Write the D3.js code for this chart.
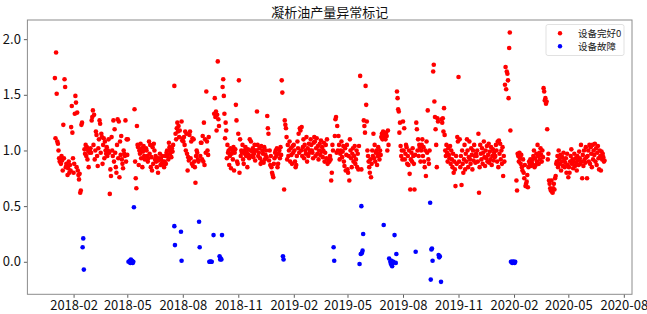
<!DOCTYPE html>
<html>
<head>
<meta charset="utf-8">
<script src="https://cdn.jsdelivr.net/npm/d3@7"></script>
<style>
  body { margin: 0; background: #fff; }
  text { font-family: "Noto Sans CJK SC", "DejaVu Sans", sans-serif; }
</style>
</head>
<body>
<svg id="chart" width="647" height="314"></svg>
<script>
// months covered by the "good" series, one value per day-slot (null = no reading)
const months = ["2018-01","2018-02","2018-03","2018-04","2018-05","2018-06","2018-07","2018-08","2018-09","2018-10","2018-11","2018-12",
  "2019-01","2019-02","2019-03","2019-04","2019-05","2019-06","2019-07","2019-08","2019-09","2019-10","2019-11","2019-12",
  "2020-01","2020-02","2020-03","2020-04","2020-05","2020-06"];

const goodValues = [
  [1.65,1.11,1.88,1.51,1.08,1.06,1.00,0.93,0.90,0.92,0.88,0.95,0.91,0.82,1.23,0.93,1.64,1.57,0.85,0.88,0.86,0.78,0.84,0.90,0.80,0.87,0.82,1.21,1.40,1.16,0.93],
  [0.80,0.88,1.33,1.49,1.43,0.85,1.34,0.82,0.78,0.74,0.79,0.62,0.64,1.23,1.25,null,null,null,1.01,0.97,1.05,0.95,1.03,0.92,1.00,0.85,0.98,1.00],
  [1.02,0.98,1.27,1.30,1.36,1.05,1.32,0.92,1.00,1.17,1.14,0.95,0.86,1.02,1.10,1.27,1.24,0.98,1.15,1.12,0.88,1.05,1.11,0.93,1.08,1.00,0.97,1.03,0.95,1.00,1.10],
  [0.98,0.61,0.83,0.77,1.12,1.00,0.95,1.27,0.90,1.19,0.98,0.85,0.80,1.05,1.28,0.93,1.26,0.76,1.08,0.96,1.13,0.92,0.88,0.84,1.00,0.97,0.95,1.27,0.90,1.10],
  [0.96,1.10,null,null,null,null,null,null,null,null,null,null,1.37,0.90,0.75,0.66,1.22,1.05,1.03,0.87,1.00,0.97,1.06,0.93,1.02,0.85,0.99,1.04,0.95,0.92,1.01],
  [1.02,1.00,0.95,0.90,0.93,1.08,0.97,1.05,0.85,0.94,0.82,1.03,0.88,1.06,1.00,0.92,0.95,0.90,0.85,0.93,0.80,0.91,0.93,0.97,0.87,0.92,0.88,0.95,0.90,0.89],
  [0.85,0.90,0.95,0.88,0.98,1.00,0.95,0.92,1.07,1.03,0.97,1.00,0.94,1.02,0.99,1.05,null,1.58,null,1.15,1.10,1.20,1.25,1.17,1.22,1.12,1.18,null,null,1.26,1.09],
  [1.11,1.08,1.12,1.05,1.17,1.00,1.15,0.97,0.82,0.94,0.91,1.14,1.17,0.93,1.08,0.88,1.11,0.86,1.10,0.90,0.85,0.71,0.95,1.00,0.98,0.92,0.90,null,null,0.95,1.07],
  [1.07,0.92,1.13,0.90,1.25,0.87,1.10,0.98,1.53,1.08,1.00,0.96,1.12,null,null,null,null,null,null,null,null,1.33,1.47,1.30,1.35,1.18,1.32,1.80,1.28,1.22],
  [null,null,null,null,null,1.57,1.64,1.49,1.33,1.11,1.25,1.18,0.93,1.05,0.98,1.00,0.87,0.95,1.02,0.84,0.97,1.00,0.92,1.03,0.82,0.98,1.01,1.41,1.27,0.90,0.88],
  [1.15,1.63,0.80,1.10,0.95,1.00,0.98,1.05,0.92,0.88,1.00,0.97,1.03,0.95,0.98,0.85,1.01,0.96,0.93,1.10,1.00,1.08,0.95,0.99,1.02,0.94,0.97,1.05,0.91,1.00],
  [1.00,1.35,1.05,0.95,0.98,1.02,0.93,0.88,1.04,0.90,1.00,0.97,0.89,1.03,0.92,0.96,1.00,0.94,1.31,1.20,1.15,0.91,1.00,0.87,0.95,0.85,0.80,0.78,0.76,0.88,0.93],
  [0.98,1.00,0.95,1.02,0.85,0.88,0.97,1.00,0.93,1.03,0.96,1.63,1.52,null,null,0.65,1.27,1.23,1.20,1.12,0.92,1.05,0.95,1.00,1.08,0.90,1.02,0.96,0.88,1.04,0.98],
  [1.05,1.00,0.90,0.85,0.87,0.95,1.08,1.02,1.15,0.98,1.20,1.18,1.00,1.21,0.95,1.03,1.10,0.93,1.05,1.00,0.97,1.12,0.90,1.02,0.95,1.06,0.98,1.00],
  [1.10,1.05,1.00,0.98,0.93,1.07,1.12,1.08,0.95,1.02,1.11,0.97,1.04,0.92,1.00,1.06,0.96,1.09,0.99,1.03,0.94,1.00,1.07,0.90,0.98,1.05,0.93,1.10,0.88,0.92,0.90],
  [0.90,0.95,0.92,0.73,0.80,1.05,1.00,null,null,1.13,1.28,1.30,0.98,1.22,1.00,1.13,1.05,0.92,0.97,1.00,1.08,0.94,0.99,1.04,0.90,0.86,1.02,0.82,0.96,1.05],
  [0.83,0.80,0.95,0.73,1.10,1.00,0.93,0.85,0.97,1.02,0.90,0.95,1.04,0.88,0.92,1.00,0.85,0.97,0.83,1.04,null,1.67,null,0.83,null,null,null,1.27,1.22,1.16,1.58],
  [1.41,1.26,1.00,0.95,0.90,0.85,0.80,0.92,0.76,0.88,1.00,0.95,1.15,0.93,1.05,0.90,0.98,1.00,0.87,0.95,1.03,0.97,0.92,1.00,0.96,1.12,1.15,1.10,1.17,null],
  [1.12,1.15,1.10,1.16,1.13,1.00,1.18,1.05,null,null,null,null,null,null,null,null,null,null,null,null,null,1.53,1.47,1.37,1.35,1.16,1.25,1.04,0.95,1.00,0.92],
  [1.26,1.00,1.20,0.92,0.97,1.05,1.03,0.88,0.95,0.87,1.00,0.79,0.65,0.92,0.98,0.90,1.02,0.95,0.88,0.65,0.96,null,1.25,1.19,1.00,1.10,0.95,1.05,1.03,0.90,1.00],
  [1.05,1.10,0.95,1.03,0.90,0.85,1.00,0.77,1.08,0.98,1.36,0.92,0.88,1.00,null,null,null,null,null,1.71,1.77,1.44,1.30,1.19,1.05,0.85,1.29,1.26,null,null],
  [null,null,null,1.28,1.25,1.29,1.17,1.38,1.14,1.00,0.95,1.05,0.98,0.90,1.02,0.96,0.93,1.04,0.88,1.00,0.92,0.85,0.97,0.80,0.90,0.83,0.68,0.95,0.88,1.12,1.08],
  [1.66,0.90,1.10,0.85,0.95,0.69,1.00,0.88,0.80,0.92,1.05,0.83,0.97,0.90,1.10,1.00,0.85,0.94,1.08,0.92,0.88,1.02,0.96,0.83,1.00,0.91,1.05,0.95,0.89,0.97],
  [0.95,1.00,0.90,1.15,0.62,0.85,1.05,0.97,0.92,1.02,0.88,0.98,1.08,0.94,0.86,1.00,0.93,1.04,0.90,0.96,1.06,0.89,0.99,0.92,1.03,0.87,0.95,1.01,0.91,0.98,0.94],
  [0.95,1.05,1.00,0.90,1.08,0.85,1.09,0.97,1.06,0.92,1.00,0.88,1.03,0.77,0.95,0.90,1.59,1.75,1.55,1.71,1.69,1.63,1.47,1.92,2.06,1.18,null,null,null,null,null],
  [null,null,null,null,0.73,0.64,0.97,0.95,0.90,0.98,0.93,0.88,0.96,0.85,0.82,0.92,0.80,0.75,0.87,0.68,0.70,0.72,0.78,0.67,0.85,0.90,0.88,0.92,0.86],
  [0.90,0.88,0.92,0.95,1.00,0.85,0.93,0.87,0.97,0.90,1.05,0.95,0.88,0.98,0.92,1.02,0.96,0.90,1.00,0.94,1.56,1.53,1.45,1.47,1.42,1.44,1.19,0.92,0.97,0.73,0.70],
  [0.66,0.64,0.73,0.63,0.62,0.66,0.70,0.65,0.75,0.77,0.88,0.90,0.95,0.85,1.00,0.92,0.88,0.96,0.82,0.90,0.94,0.86,0.98,0.91,0.85,0.89,0.93,0.80,0.97,0.87],
  [0.76,0.85,0.80,0.90,0.95,1.01,0.88,0.92,0.84,0.90,0.97,0.86,0.93,0.89,0.82,0.95,0.91,0.87,0.99,0.93,0.88,1.05,0.90,0.75,0.96,0.86,1.00,0.92,0.89,1.03,0.94],
  [0.75,0.95,1.00,0.90,1.05,0.88,1.03,0.97,0.85,1.05,0.92,1.00,0.96,1.06,0.90,1.02,0.87,0.98,1.04,0.93,0.83,1.00,0.95,0.82,0.99,0.92,0.97,0.94,0.90,0.91]
];

// fault days
const faultDates = ["2018-02-16","2018-02-17","2018-02-18",
  "2018-05-03","2018-05-05","2018-05-06","2018-05-07","2018-05-08","2018-05-09","2018-05-10","2018-05-11","2018-05-12",
  "2018-07-18","2018-07-19","2018-07-29","2018-07-30","2018-08-28","2018-08-29",
  "2018-09-14","2018-09-15","2018-09-16","2018-09-17","2018-09-18","2018-09-21",
  "2018-10-01","2018-10-02","2018-10-03","2018-10-04","2018-10-05",
  "2019-01-14","2019-01-15","2019-04-08","2019-04-09",
  "2019-05-21","2019-05-23","2019-05-24","2019-05-25","2019-05-26","2019-05-27","2019-06-30",
  "2019-07-09","2019-07-11","2019-07-12","2019-07-13","2019-07-14","2019-07-15","2019-07-16","2019-07-18","2019-07-20","2019-07-21",
  "2019-08-22","2019-09-15","2019-09-16","2019-09-17","2019-09-18","2019-09-19",
  "2019-09-29","2019-09-30","2019-10-01","2019-10-03",
  "2020-01-27","2020-01-28","2020-01-29","2020-01-30","2020-01-31","2020-02-01","2020-02-02","2020-02-03"];
const faultValues = [0.13,0.21,-0.07,
  0.00,0.01,-0.01,0.02,0.00,0.01,-0.01,0.00,0.49,
  0.32,0.15,0.27,0.01,0.36,0.13,
  0.00,0.00,0.00,0.00,0.00,0.24,
  0.05,0.02,0.03,0.02,0.24,
  0.05,0.02,0.13,0.01,
  -0.02,0.07,0.50,0.08,0.10,0.25,0.33,
  0.03,0.00,-0.02,0.01,-0.04,-0.01,0.00,0.24,-0.01,0.07,
  0.09,0.53,-0.16,0.11,0.12,0.01,
  0.06,0.04,0.05,-0.18,
  0.00,0.00,-0.01,0.00,0.00,0.00,-0.01,0.00];

const xTickLabels = ["2018-02","2018-05","2018-08","2018-11","2019-02","2019-05","2019-08","2019-11","2020-02","2020-05","2020-08"];
const yTicks = [0.0, 0.5, 1.0, 1.5, 2.0];
const title = "凝析油产量异常标记";
const legendLabels = ["设备完好0", "设备故障"];
const colors = ["#ff0000", "#0000ff"];

const parseMonth = d3.timeParse("%Y-%m");
const parseDay = d3.timeParse("%Y-%m-%d");

// build point lists
let good = [];
months.forEach((m, mi) => {
  const start = parseMonth(m);
  const nDays = d3.timeDay.count(start, d3.timeMonth.offset(start, 1));
  const vals = goodValues[mi];
  vals.forEach((v, i) => {
    if (v === null) return;
    good.push({ date: d3.timeDay.offset(start, Math.floor(i * nDays / vals.length)), value: v });
  });
});
const fault = faultDates.map((d, i) => ({ date: parseDay(d), value: faultValues[i] }));

const all = good.concat(fault);

const margin = { left: 27.4, right: 15, top: 20, bottom: 19.7 };
const W = 647, H = 314;

// matplotlib-like 5% padding
const xExt = d3.extent(all, d => +d.date);
const xPad = (xExt[1] - xExt[0]) * 0.05;
const yExt = d3.extent(all, d => d.value);
const yPad = (yExt[1] - yExt[0]) * 0.05;

const x = d3.scaleTime()
  .domain([new Date(xExt[0] - xPad), new Date(xExt[1] + xPad)])
  .range([margin.left, W - margin.right]);
const y = d3.scaleLinear()
  .domain([yExt[0] - yPad, yExt[1] + yPad])
  .range([H - margin.bottom, margin.top]);

const svg = d3.select("#chart");

// points
svg.append("g").selectAll("circle")
  .data(good)
  .join("circle")
  .attr("cx", d => x(d.date))
  .attr("cy", d => y(d.value))
  .attr("r", 2.3)
  .attr("fill", colors[0]);

svg.append("g").selectAll("circle")
  .data(fault)
  .join("circle")
  .attr("cx", d => x(d.date))
  .attr("cy", d => y(d.value))
  .attr("r", 2.3)
  .attr("fill", colors[1]);

// axes
const xAxis = d3.axisBottom(x)
  .tickValues(xTickLabels.map(parseMonth))
  .tickFormat(d3.timeFormat("%Y-%m"))
  .tickSize(3.5)
  .tickPadding(2.5);
const gx = svg.append("g")
  .attr("transform", `translate(0,${H - margin.bottom})`)
  .call(xAxis);
gx.select(".domain").remove();
gx.selectAll("line").attr("stroke", "#333").attr("stroke-width", 0.8);
gx.selectAll("text").attr("font-size", 13).attr("fill", "#111");

const yAxis = d3.axisLeft(y)
  .tickValues(yTicks)
  .tickFormat(d3.format(".1f"))
  .tickSize(3.5)
  .tickPadding(3);
const gy = svg.append("g")
  .attr("transform", `translate(${margin.left},0)`)
  .call(yAxis);
gy.select(".domain").remove();
gy.selectAll("line").attr("stroke", "#333").attr("stroke-width", 0.8);
gy.selectAll("text").attr("font-size", 13).attr("fill", "#111");

// frame
svg.append("rect")
  .attr("x", margin.left)
  .attr("y", margin.top)
  .attr("width", W - margin.right - margin.left)
  .attr("height", H - margin.bottom - margin.top)
  .attr("fill", "none")
  .attr("stroke", "#8c8c8c")
  .attr("stroke-width", 1);

// title
svg.append("text")
  .attr("x", (margin.left + W - margin.right) / 2)
  .attr("y", 16.5)
  .attr("text-anchor", "middle")
  .attr("font-size", 13)
  .attr("fill", "#111")
  .text(title);

// legend
const lg = svg.append("g");
lg.append("rect")
  .attr("x", 546).attr("y", 24.5)
  .attr("width", 78).attr("height", 31)
  .attr("rx", 2)
  .attr("fill", "#fff").attr("fill-opacity", 0.8)
  .attr("stroke", "#d9d9d9").attr("stroke-width", 0.8);
legendLabels.forEach((lab, i) => {
  lg.append("circle")
    .attr("cx", 560).attr("cy", 33.3 + i * 13)
    .attr("r", 2.2).attr("fill", colors[i]);
  lg.append("text")
    .attr("x", 578).attr("y", 33.3 + i * 13)
    .attr("dy", "0.35em")
    .attr("font-size", 9.5)
    .attr("fill", "#222")
    .text(lab);
});
</script>
</body>
</html>
